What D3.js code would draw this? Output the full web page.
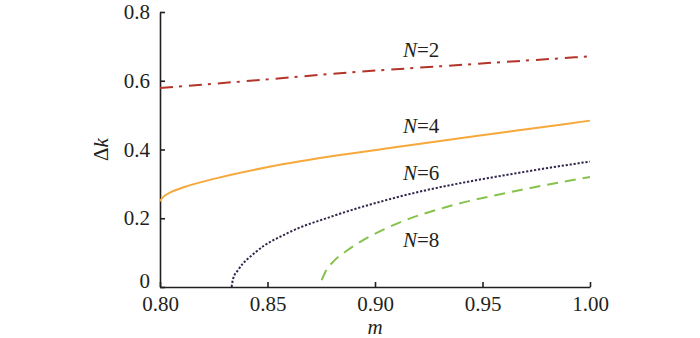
<!DOCTYPE html>
<html>
<head>
<meta charset="utf-8">
<script src="https://cdn.jsdelivr.net/npm/d3@7"></script>
<style>
  body { margin: 0; background: #fff; }
  svg text { font-family: "Liberation Serif", "DejaVu Serif", serif; fill: #231f20; }
</style>
</head>
<body>
<div id="chart"></div>
<script>
// ticks
const xTicks = [0.80, 0.85, 0.90, 0.95, 1.00];
const yTicks = [0, 0.2, 0.4, 0.6, 0.8];

// series (m, dk)
const n2 = [[0.800, 0.579], [0.850, 0.604], [0.888, 0.624], [0.930, 0.642], [0.966, 0.657], [1.000, 0.671]];
const n4 = [[0.800, 0.250], [0.8015, 0.262], [0.805, 0.276], [0.811, 0.290], [0.826, 0.316], [0.857, 0.357], [0.911, 0.408], [0.966, 0.455], [1.000, 0.484]];
const n6 = [[0.8333, 0.000], [0.8340, 0.024], [0.8364, 0.050], [0.8442, 0.100], [0.8597, 0.158], [0.8798, 0.205], [0.9108, 0.262], [0.9705, 0.336], [1.000, 0.365]];
const n8 = [[0.8752, 0.020], [0.8770, 0.045], [0.8806, 0.074], [0.8870, 0.106], [0.8961, 0.142], [0.9116, 0.188], [0.934, 0.234], [0.966, 0.280], [1.000, 0.320]];

const series = [
    {name: "2", data: n2, color: "#b3342a", dash: "13,6,3,7", lx: 0.913, ly: 0.668},
    {name: "4", data: n4, color: "#f6a83a", dash: null, lx: 0.913, ly: 0.448},
    {name: "6", data: n6, color: "#33264a", dash: "2.2,1.8", lx: 0.913, ly: 0.311},
    {name: "8", data: n8, color: "#86c24c", dash: "11,7", lx: 0.913, ly: 0.117}
];

const margin = {top: 12, right: 110, bottom: 51, left: 160};
const width = 700 - margin.left - margin.right;
const height = 338 - margin.top - margin.bottom;

const svg = d3.select("#chart")
    .append("svg")
        .attr("width", 700)
        .attr("height", 338)
    .append("g")
        .attr("transform", `translate(${margin.left}, ${margin.top})`);

const x = d3.scaleLinear().domain([0.8, 1.0]).range([0, width]);
const y = d3.scaleLinear().domain([0, 0.8]).range([height, 0]);

// eixos
const xAxis = svg.append("g")
    .attr("transform", `translate(0, ${height})`)
    .call(d3.axisBottom(x).tickValues(xTicks).tickFormat(d3.format(".2f")).tickSizeInner(-5).tickSizeOuter(0).tickPadding(9));

const yAxis = svg.append("g")
    .call(d3.axisLeft(y).tickValues(yTicks).tickFormat(d => d === 0 ? "0" : d3.format(".1f")(d)).tickSizeInner(-5).tickSizeOuter(0).tickPadding(10));

[xAxis, yAxis].forEach(a => {
    a.attr("font-family", null).attr("font-size", null);
    a.select(".domain").attr("stroke", "#231f20").attr("stroke-width", 1.6);
    a.selectAll(".tick line").attr("stroke", "#231f20").attr("stroke-width", 1.6);
    a.selectAll("text").style("font-size", "21px").attr("fill", "#231f20");
});

// el "0" una mica amunt
yAxis.selectAll(".tick text").filter(d => d === 0).attr("y", -6);

// corbes
const line = d3.line()
    .x(d => x(d[0]))
    .y(d => y(d[1]))
    .curve(d3.curveMonotoneX);

series.forEach(s => {
    svg.append("path")
        .datum(s.data)
        .attr("fill", "none")
        .attr("stroke", s.color)
        .attr("stroke-width", 2)
        .attr("stroke-dasharray", s.dash)
        .attr("d", line);

    const t = svg.append("text")
        .attr("x", x(s.lx))
        .attr("y", y(s.ly))
        .style("font-size", "21px");
    t.append("tspan").style("font-style", "italic").text("N");
    t.append("tspan").text("=" + s.name);
});

// titols eixos
svg.append("text")
    .attr("x", width / 2)
    .attr("y", height + 47)
    .attr("text-anchor", "middle")
    .style("font-size", "21px")
    .style("font-style", "italic")
    .text("m");

const yl = svg.append("text")
    .attr("transform", `translate(-52, ${height / 2}) rotate(-90)`)
    .attr("text-anchor", "middle")
    .style("font-size", "21px");
yl.append("tspan").text("Δ");
yl.append("tspan").style("font-style", "italic").text("k");
</script>
</body>
</html>
